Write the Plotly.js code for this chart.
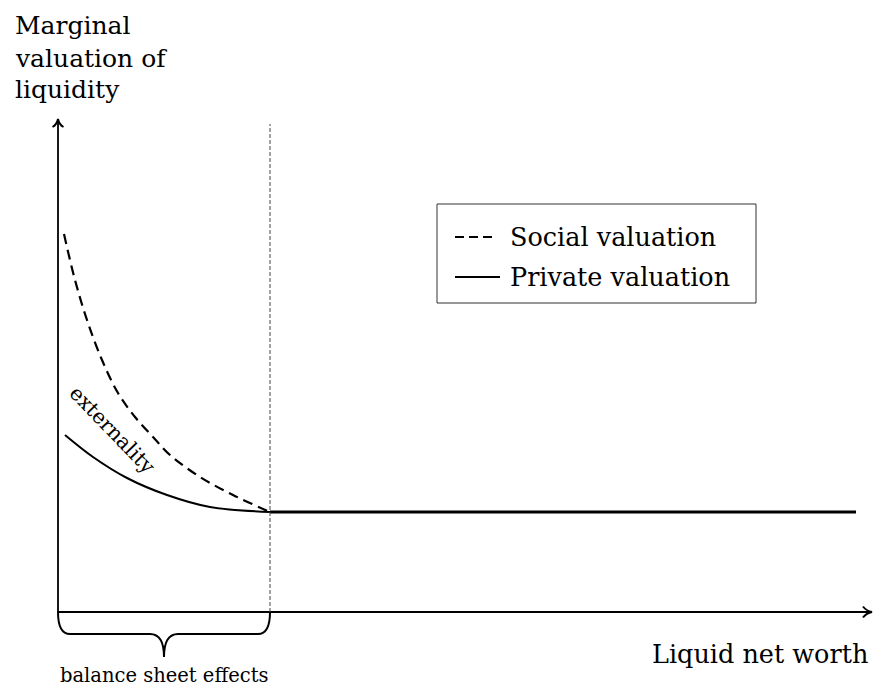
<!DOCTYPE html>
<html>
<head>
<meta charset="utf-8">
<script src="https://cdn.plot.ly/plotly-3.0.1.min.js"></script>
<style>html,body{margin:0;padding:0;background:#fff;}#chart{width:876px;height:692px;}</style>
</head>
<body>
<div id="chart"></div>
<script>
// Data (x: liquid net worth, y: marginal valuation)
const socialX  = [0.06, 0.17, 0.29, 0.44, 0.60, 0.77, 0.95, 1.12, 1.42, 1.75, 2.12];
const socialY  = [3.78, 3.32, 2.92, 2.52, 2.19, 1.95, 1.75, 1.57, 1.35, 1.17, 1.00];
const privateX = [0.07, 0.35, 0.69, 1.09, 1.52, 2.12];
const privateY = [1.77, 1.55, 1.34, 1.17, 1.05, 1.00];
const flatX    = [2.12, 7.98];
const flatY    = [1.00, 1.00];
const threshold = 2.12;
const seriesNames = ["Social valuation", "Private valuation"];
const yLabelLines = ["Marginal", "valuation of", "liquidity"];
const xLabel = "Liquid net worth";
const braceLabel = "balance sheet effects";
const externalityLabel = "externality";

const FONT = "DejaVu Serif";

const traces = [
  {x: socialX, y: socialY, mode: "lines", name: seriesNames[0], showlegend: false,
   line: {color: "#000", width: 2.2, dash: "10px,6px", shape: "spline", smoothing: 1}},
  {x: privateX, y: privateY, mode: "lines", name: seriesNames[1], showlegend: false,
   line: {color: "#000", width: 2, shape: "spline", smoothing: 1}},
  {x: flatX, y: flatY, mode: "lines", name: seriesNames[1], showlegend: false,
   line: {color: "#000", width: 3}}
];

const shapes = [
  // axes
  {type: "line", x0: 0, x1: 0, y0: 0, y1: 4.92, line: {color: "#000", width: 1.8}},
  {type: "line", x0: 0, x1: 8.13, y0: 0, y1: 0, line: {color: "#000", width: 1.8}},
  {type: "path", path: "M -0.055,4.85 Q -0.01,4.875 0,4.93 Q 0.01,4.875 0.055,4.85", line: {color: "#000", width: 2}},
  {type: "path", path: "M 8.05,0.055 Q 8.085,0.01 8.14,0 Q 8.085,-0.01 8.05,-0.055", line: {color: "#000", width: 2}},
  // threshold
  {type: "line", x0: threshold, x1: threshold, y0: 0, y1: 4.88, line: {color: "#444", width: 1, dash: "4px,2px"}},
  // brace
  {type: "path", path: "M 0,0 Q 0,-0.22 0.12,-0.22 L 0.92,-0.22 Q 1.06,-0.22 1.06,-0.45 Q 1.06,-0.22 1.20,-0.22 L 2.00,-0.22 Q 2.12,-0.22 2.12,0",
   line: {color: "#000", width: 2}},
  // legend box and samples
  {type: "rect", x0: 3.79, x1: 6.98, y0: 3.09, y1: 4.08, line: {color: "#333", width: 1}, fillcolor: "rgba(0,0,0,0)"},
  {type: "line", x0: 3.97, x1: 4.35, y0: 3.75, y1: 3.75, line: {color: "#000", width: 2, dash: "9px,5px"}},
  {type: "line", x0: 3.97, x1: 4.42, y0: 3.35, y1: 3.35, line: {color: "#000", width: 2}}
];

const ann = (text, x, y, size, opts) => Object.assign({
  text: text, x: x, y: y, xref: "x", yref: "y", showarrow: false,
  font: {family: FONT, size: size, color: "#000"}, xanchor: "left", yanchor: "middle"
}, opts || {});

const annotations = [
  ann(yLabelLines[0], -0.45, 6.12 - 0.25, 25),
  ann(yLabelLines[1], -0.45, 6.12 - 0.585, 25),
  ann(yLabelLines[2], -0.45, 6.12 - 0.89, 25),
  ann(xLabel, 8.12, -0.42, 25.5, {xanchor: "right"}),
  ann(braceLabel, 1.06, -0.63, 19.5, {xanchor: "center"}),
  ann(externalityLabel, 0.545, 1.82, 20.5, {xanchor: "center", textangle: 46}),
  ann(seriesNames[0], 4.50, 3.75, 25.5),
  ann(seriesNames[1], 4.50, 3.35, 25.5)
];

const layout = {
  width: 876, height: 692,
  margin: {l: 0, r: 0, t: 0, b: 0},
  paper_bgcolor: "#fff", plot_bgcolor: "#fff",
  showlegend: false,
  font: {family: FONT},
  xaxis: {range: [-0.58, 8.18], visible: false, fixedrange: true},
  yaxis: {range: [-0.80, 6.12], visible: false, fixedrange: true},
  shapes: shapes,
  annotations: annotations
};

Plotly.newPlot("chart", traces, layout, {displayModeBar: false, staticPlot: true});
</script>
</body>
</html>
